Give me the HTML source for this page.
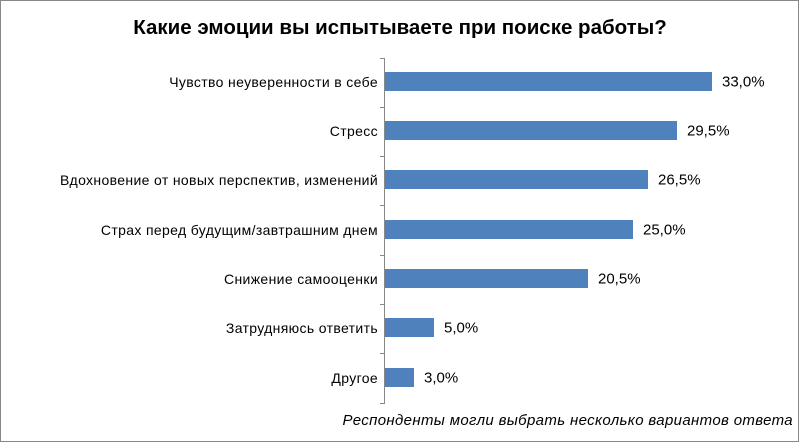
<!DOCTYPE html>
<html><head><meta charset="utf-8"><style>
html,body{margin:0;padding:0;background:#fff;}
body{width:800px;height:443px;position:relative;overflow:hidden;font-family:"Liberation Sans","DejaVu Sans",sans-serif;}
.frame{position:absolute;left:0;top:0;width:797px;height:440px;border:1px solid #888;box-sizing:content-box;}
.title{position:absolute;left:0;width:800px;top:16px;text-align:center;font-weight:bold;font-size:20.5px;color:#000;}
.lab{position:absolute;right:422px;font-size:14px;letter-spacing:0.35px;color:#000;white-space:nowrap;transform:translateY(-50%);}
.bar{position:absolute;left:385px;height:19px;background:#4f81bd;}
.val{position:absolute;font-size:15px;color:#000;transform:translateY(-50%);}
.axis{position:absolute;left:384px;top:58px;width:1px;height:346px;background:#888;}
.tick{position:absolute;left:380px;width:4px;height:1px;background:#888;}
.note{position:absolute;right:7px;top:412px;font-style:italic;font-size:15px;letter-spacing:0.35px;color:#000;white-space:nowrap;}
</style></head><body>
<div class="frame"></div>
<div class="title">Какие эмоции вы испытываете при поиске работы?</div>
<div class="axis"></div>
<div class="tick" style="top:58px"></div><div class="tick" style="top:107px"></div><div class="tick" style="top:156px"></div><div class="tick" style="top:205px"></div><div class="tick" style="top:255px"></div><div class="tick" style="top:304px"></div><div class="tick" style="top:353px"></div><div class="tick" style="top:403px"></div>

<div class="lab" style="top:82px">Чувство неуверенности в себе</div>
<div class="bar" style="top:72px;width:327px"></div><div class="val" style="top:82px;left:722px">33,0%</div>

<div class="lab" style="top:131px">Стресс</div>
<div class="bar" style="top:121px;width:292px"></div><div class="val" style="top:131px;left:687px">29,5%</div>

<div class="lab" style="top:180px">Вдохновение от новых перспектив, изменений</div>
<div class="bar" style="top:170px;width:263px"></div><div class="val" style="top:180px;left:658px">26,5%</div>

<div class="lab" style="top:230px">Страх перед будущим/завтрашним днем</div>
<div class="bar" style="top:220px;width:248px"></div><div class="val" style="top:230px;left:643px">25,0%</div>

<div class="lab" style="top:279px">Снижение самооценки</div>
<div class="bar" style="top:269px;width:203px"></div><div class="val" style="top:279px;left:598px">20,5%</div>

<div class="lab" style="top:328px">Затрудняюсь ответить</div>
<div class="bar" style="top:318px;width:49px"></div><div class="val" style="top:328px;left:444px">5,0%</div>

<div class="lab" style="top:378px">Другое</div>
<div class="bar" style="top:368px;width:29px"></div><div class="val" style="top:378px;left:424px">3,0%</div>

<div class="note">Респонденты могли выбрать несколько вариантов ответа</div>
</body></html>
